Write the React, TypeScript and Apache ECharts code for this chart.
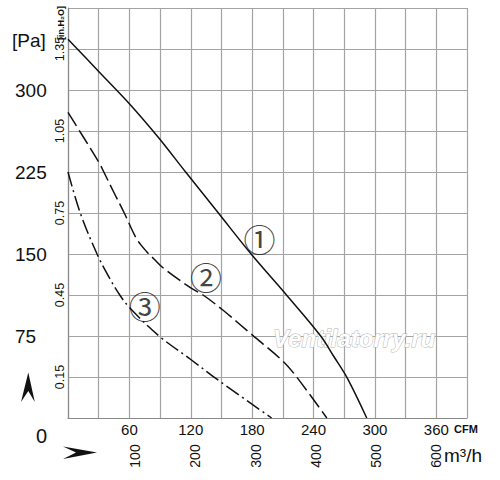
import React, { useEffect, useRef } from "react";
import * as echarts from "echarts";

// ---- data ----
const cfm1 = [0, 30, 60, 88, 115, 147, 179, 215, 247, 260, 273, 292];
const pa1 = [346.5, 317, 287.5, 257, 225, 187.5, 150, 111, 75, 56, 36.5, 0];

const cfm2 = [0, 15, 30.7, 35, 45, 55, 67, 77, 84, 94, 120, 132, 151, 180, 210, 223.5, 253];
const pa2 = [279.5, 257, 233, 225, 206, 187.5, 164, 152, 145.5, 136.5, 119, 112.5, 99, 76, 52, 37.5, 0];

const cfm3 = [0, 12, 28.4, 40, 50.6, 60.5, 89, 120, 148.5, 199];
const pa3 = [225, 187.5, 150, 129, 112.5, 100.6, 75, 53.5, 33.5, 0];

const curveTags = ["①", "②", "③"];
const tagCfm = [187.1, 134.8, 75.1];
const tagPa = [164.5, 129.5, 103.6];

const cfmLabels = ["60", "120", "180", "240", "300", "360"];
const m3hLabels = ["100", "200", "300", "400", "500", "600"];
const paLabels = ["0", "75", "150", "225", "300"];
const inH2OLabels = ["0.15", "0.45", "0.75", "1.05", "1.35"];

const CFM_MAX = 390;
const PA_MAX = 375;
const M3H_PER_CFM = 1.69901;

const SANS = "'Liberation Sans', Arial, sans-serif";
const INK = "#111";
const GRID = "#a3a3a3";

function zip(xs: number[], ys: number[]) {
  return xs.map((x, i) => [x, ys[i]]);
}

export default function App() {
  const ref = useRef<HTMLDivElement>(null);
  useEffect(() => {
    if (!ref.current) return;
    const chart = echarts.init(ref.current, undefined, { renderer: "svg" });
    const lineBase = {
      type: "line",
      xAxisIndex: 0,
      yAxisIndex: 0,
      showSymbol: false,
      symbol: "none",
      smooth: 0.35,
      z: 3,
    };
    chart.setOption({
      animation: false,
      backgroundColor: "#fff",
      grid: { left: 68, top: 8, width: 399, height: 410, containLabel: false },
      xAxis: [
        {
          type: "value",
          min: 0,
          max: CFM_MAX,
          interval: 30,
          position: "bottom",
          axisLine: { show: true, lineStyle: { color: "#8a8a8a", width: 1.2 } },
          axisTick: { show: false },
          splitLine: { show: true, lineStyle: { color: GRID, width: 1.2 } },
          axisLabel: {
            margin: 4,
            fontSize: 15,
            fontFamily: SANS,
            color: INK,
            formatter: (v: number) => (cfmLabels.includes(String(v)) ? String(v) : ""),
          },
        },
        {
          type: "value",
          min: 0,
          max: CFM_MAX * M3H_PER_CFM,
          interval: 100,
          position: "bottom",
          offset: 0,
          axisLine: { show: false },
          axisTick: { show: false },
          splitLine: { show: false },
          axisLabel: {
            rotate: 90,
            align: "center",
            verticalAlign: "top",
            margin: 38,
            fontSize: 14,
            fontFamily: SANS,
            color: INK,
            formatter: (v: number) => (m3hLabels.includes(String(v)) ? String(v) : ""),
          },
        },
      ],
      yAxis: [
        {
          type: "value",
          min: 0,
          max: PA_MAX,
          interval: 37.5,
          position: "left",
          axisLine: { show: true, lineStyle: { color: "#8a8a8a", width: 1.2 } },
          axisTick: { show: false },
          splitLine: { show: true, lineStyle: { color: GRID, width: 1.2 } },
          axisLabel: {
            align: "left",
            margin: 53,
            fontSize: 19,
            fontFamily: SANS,
            color: INK,
            formatter: (v: number) => {
              const s = String(v);
              if (!paLabels.includes(s)) return "";
              return v === 0 ? "{z|" + s + "}" : s;
            },
            rich: {
              z: { padding: [36, 0, 0, 21], fontSize: 20, fontFamily: SANS, color: INK },
            },
          },
        },
        {
          type: "value",
          min: 0,
          max: 1.5,
          interval: 0.15,
          position: "left",
          offset: 0,
          axisLine: { show: false },
          axisTick: { show: false },
          splitLine: { show: false },
          axisLabel: {
            rotate: 90,
            align: "center",
            verticalAlign: "middle",
            margin: 8,
            fontSize: 12.5,
            fontFamily: SANS,
            color: INK,
            formatter: (v: number) => {
              const s = v.toFixed(2);
              return inH2OLabels.includes(s) ? s : "";
            },
          },
        },
      ],
      series: [
        { ...lineBase, data: zip(cfm1, pa1), lineStyle: { color: INK, width: 1.5, type: "solid" } },
        { ...lineBase, data: zip(cfm2, pa2), lineStyle: { color: INK, width: 1.5, type: [16, 5] } },
        { ...lineBase, data: zip(cfm3, pa3), lineStyle: { color: INK, width: 1.5, type: [15, 4, 2, 4] } },
        {
          type: "scatter",
          xAxisIndex: 0,
          yAxisIndex: 0,
          symbolSize: 0,
          z: 4,
          data: curveTags.map((t, i) => ({ name: t, value: [tagCfm[i], tagPa[i]] })),
          label: {
            show: true,
            position: "inside",
            formatter: "{b}",
            fontSize: 32,
            fontFamily: "'Noto Sans CJK JP', 'DejaVu Sans', sans-serif",
            color: INK,
          },
        },
      ],
      graphic: [
        {
          type: "text",
          x: 12,
          y: 40,
          style: { text: "[Pa]", fontSize: 19, fontFamily: SANS, fill: INK, align: "left", verticalAlign: "middle" },
        },
        {
          type: "text",
          x: 61,
          y: 23,
          rotation: Math.PI / 2,
          style: {
            text: "[in.H₂O]",
            fontSize: 9,
            fontWeight: "bold",
            fontFamily: SANS,
            fill: INK,
            align: "center",
            verticalAlign: "middle",
          },
        },
        {
          type: "text",
          x: 454,
          y: 429,
          style: { text: "CFM", fontSize: 11, fontWeight: "bold", fontFamily: SANS, fill: INK, align: "left", verticalAlign: "middle" },
        },
        {
          type: "text",
          x: 444,
          y: 455,
          style: { text: "m³/h", fontSize: 19, fontFamily: SANS, fill: INK, align: "left", verticalAlign: "middle" },
        },
        {
          type: "text",
          x: 273,
          y: 338,
          z: 1,
          style: {
            text: "Ventilatorry.ru",
            fontSize: 24,
            fontWeight: "bold",
            fontStyle: "italic",
            fontFamily: SANS,
            fill: "#ffffff",
            stroke: "#b5b5b5",
            lineWidth: 1,
            align: "left",
            verticalAlign: "middle",
          },
        },
        {
          type: "polygon",
          shape: { points: [[28.3, 372.5], [34.8, 402], [28.3, 391], [21, 402]] },
          style: { fill: INK },
        },
        {
          type: "polygon",
          shape: { points: [[63, 446.5], [97, 452.5], [63, 459], [76, 452.5]] },
          style: { fill: INK },
        },
      ],
    });
    return () => chart.dispose();
  }, []);
  return (
    <div
      ref={ref}
      style={{ position: "absolute", left: 0, top: 0, width: 500, height: 480, background: "#fff" }}
    />
  );
}
